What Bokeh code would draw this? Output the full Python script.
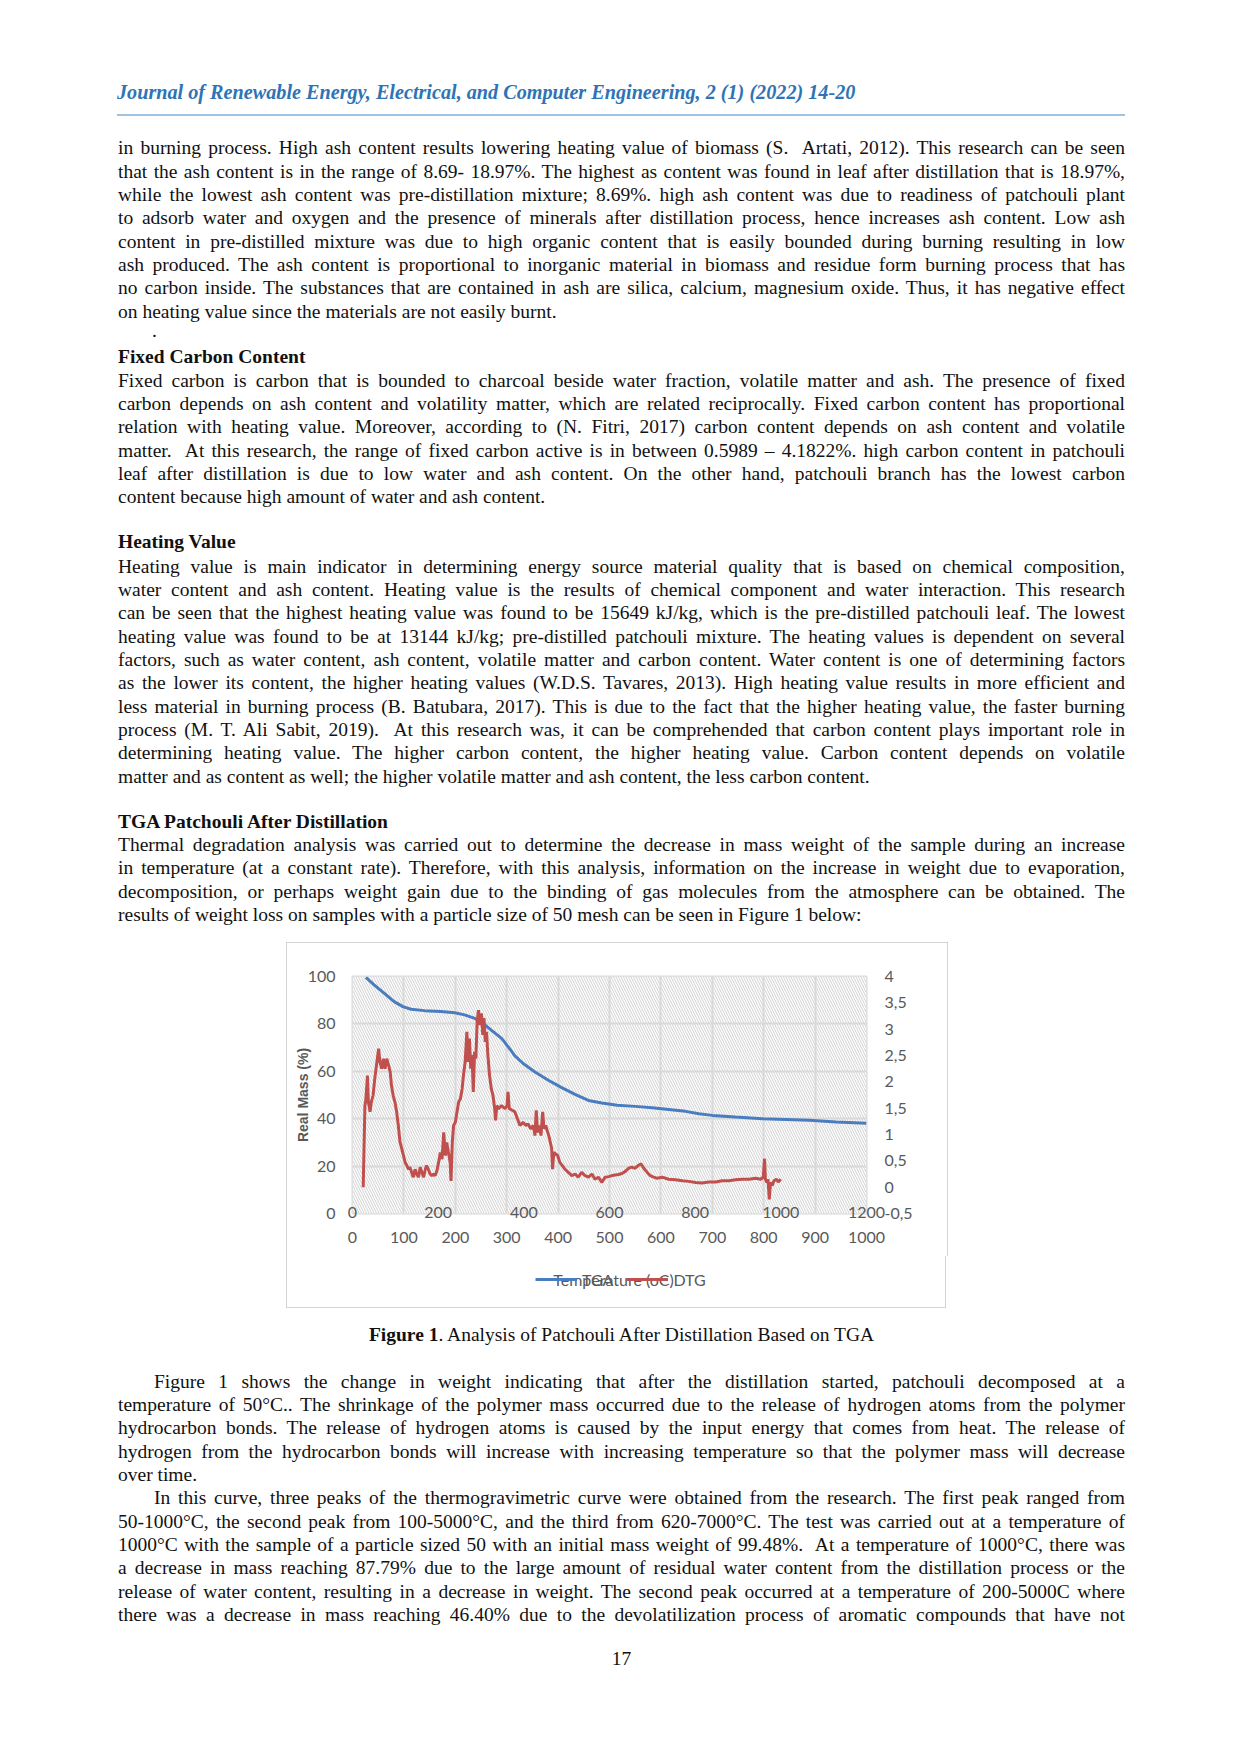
from bokeh.plotting import figure
from bokeh.models import (Range1d, LinearAxis, FixedTicker, Grid, BoxAnnotation,
                          Legend, LegendItem, Label, Div, Spacer)
from bokeh.layouts import column, row
from bokeh.embed import file_html
from bokeh.resources import INLINE


#########################################################
# data
#########################################################

# TGA curve, bottom temperature axis (0-1000) and left mass axis
tga_temp = [26, 42, 62, 81, 98, 114, 140, 172, 199, 218, 238, 254, 270, 290, 303, 316, 332, 355,
            381, 407, 433, 459, 485, 515, 550, 583, 615, 648, 674, 700, 745, 798, 843, 889, 941, 1000]
tga_mass = [99.6, 96.5, 92.9, 89.4, 87.3, 86.2, 85.6, 85.2, 84.7, 83.8, 82.3, 80.2, 77.4, 73.9, 70.3,
            66.5, 63.3, 59.7, 56.2, 53.1, 50.3, 47.7, 46.6, 45.7, 45.2, 44.6, 43.9, 43.1, 42.1, 41.4,
            40.7, 40.0, 39.7, 39.3, 38.6, 38.1]

# DTG curve, secondary temperature axis (0-1200) and right axis
dtg_temp = [25, 29, 31, 35, 37, 41, 44, 48, 52, 57, 61, 64, 68, 72, 76, 80, 84, 88, 91, 95, 99, 103,
            107, 111, 115, 119, 123, 127, 131, 134, 138, 142, 146, 150, 154, 158, 162, 166, 170, 173,
            177, 181, 185, 189, 193, 197, 201, 205, 209, 213, 217, 220, 224, 228, 230, 233, 236, 240,
            244, 248, 252, 256, 259, 263, 267, 270, 273, 276, 279, 282, 285, 288, 291, 294, 298, 301,
            304, 307, 310, 313, 316, 320, 324, 328, 332, 334, 337, 341, 348, 356, 361, 363, 366, 373,
            379, 385, 391, 398, 405, 410, 416, 422, 426, 429, 432, 436, 440, 444, 447, 451, 456, 460,
            465, 467, 470, 474, 479, 484, 490, 496, 504, 512, 520, 527, 535, 543, 551, 559, 566, 574,
            582, 590, 598, 606, 613, 621, 629, 637, 645, 652, 660, 668, 674, 680, 688, 695, 703, 711,
            723, 738, 754, 770, 785, 801, 816, 832, 848, 863, 879, 894, 910, 926, 941, 953, 959, 962,
            964, 967, 970, 973, 976, 980, 984, 990, 994, 1000]
dtg_value = [0.0, 1.55, 1.65, 2.12, 1.62, 1.43, 1.62, 1.74, 2.06, 2.38, 2.63, 2.38, 2.25, 2.44, 2.25,
             2.44, 2.32, 2.19, 1.93, 1.74, 1.62, 1.43, 1.17, 0.85, 0.73, 0.60, 0.47, 0.41, 0.34, 0.38,
             0.28, 0.19, 0.34, 0.25, 0.19, 0.38, 0.28, 0.19, 0.34, 0.41, 0.34, 0.25, 0.22, 0.25, 0.22,
             0.31, 0.47, 0.66, 0.53, 1.04, 0.60, 0.85, 0.66, 0.47, 0.12, 0.85, 1.17, 1.23, 1.43, 1.62,
             1.68, 1.87, 2.12, 2.38, 2.95, 2.38, 2.82, 2.25, 2.51, 1.81, 2.57, 2.44, 3.14, 3.36, 3.08,
             3.30, 2.89, 3.21, 2.76, 2.95, 2.51, 2.12, 1.87, 1.74, 1.49, 1.27, 1.55, 1.49, 1.55, 1.49,
             1.55, 1.81, 1.49, 1.46, 1.43, 1.30, 1.17, 1.23, 1.17, 1.20, 1.11, 1.17, 0.98, 1.46, 1.04,
             1.17, 0.98, 1.43, 1.11, 1.17, 1.04, 0.92, 0.73, 0.34, 0.66, 0.63, 0.60, 0.47, 0.41, 0.34,
             0.28, 0.22, 0.25, 0.19, 0.28, 0.22, 0.19, 0.25, 0.15, 0.19, 0.09, 0.19, 0.20, 0.22, 0.23,
             0.24, 0.26, 0.30, 0.36, 0.38, 0.36, 0.42, 0.44, 0.36, 0.28, 0.22, 0.19, 0.17, 0.19, 0.15,
             0.14, 0.12, 0.11, 0.09, 0.08, 0.10, 0.10, 0.12, 0.12, 0.14, 0.15, 0.15, 0.17, 0.15, 0.19,
             0.54, 0.15, 0.09, 0.15, -0.23, 0.09, 0.03, 0.12, 0.15, 0.10, 0.15]

series_names = ["TGA", "DTG"]
x_title = "Temperature (oC)"
y_title = "Real Mass (%)"

mass_ticks = [0, 20, 40, 60, 80, 100]
temp_ticks = [0, 100, 200, 300, 400, 500, 600, 700, 800, 900, 1000]
sec_ticks = [0, 200, 400, 600, 800, 1000, 1200]
dtg_ticks = [-0.5, 0, 0.5, 1, 1.5, 2, 2.5, 3, 3.5, 4]
dtg_labels = ["-0,5", "0", "0,5", "1", "1,5", "2", "2,5", "3", "3,5", "4"]

# page text
header = "Journal of Renewable Energy, Electrical, and Computer Engineering, 2 (1) (2022) 14-20"

para_ash = [
    "in burning process. High ash content results lowering heating value of biomass (S.&nbsp; Artati, 2012). This research can be seen",
    "that the ash content is in the range of 8.69- 18.97%. The highest as content was found in leaf after distillation that is 18.97%,",
    "while the lowest ash content was pre-distillation mixture; 8.69%. high ash content was due to readiness of patchouli plant",
    "to adsorb water and oxygen and the presence of minerals after distillation process, hence increases ash content. Low ash",
    "content in pre-distilled mixture was due to high organic content that is easily bounded during burning resulting in low",
    "ash produced. The ash content is proportional to inorganic material in biomass and residue form burning process that has",
    "no carbon inside. The substances that are contained in ash are silica, calcium, magnesium oxide. Thus, it has negative effect",
    "on heating value since the materials are not easily burnt.",
]
head_carbon = "Fixed Carbon Content"
para_carbon = [
    "Fixed carbon is carbon that is bounded to charcoal beside water fraction, volatile matter and ash. The presence of fixed",
    "carbon depends on ash content and volatility matter, which are related reciprocally. Fixed carbon content has proportional",
    "relation with heating value. Moreover, according to (N. Fitri, 2017) carbon content depends on ash content and volatile",
    "matter.&nbsp; At this research, the range of fixed carbon active is in between 0.5989 &ndash; 4.1822%. high carbon content in patchouli",
    "leaf after distillation is due to low water and ash content. On the other hand, patchouli branch has the lowest carbon",
    "content because high amount of water and ash content.",
]
head_heating = "Heating Value"
para_heating = [
    "Heating value is main indicator in determining energy source material quality that is based on chemical composition,",
    "water content and ash content. Heating value is the results of chemical component and water interaction. This research",
    "can be seen that the highest heating value was found to be 15649 kJ/kg, which is the pre-distilled patchouli leaf. The lowest",
    "heating value was found to be at 13144 kJ/kg; pre-distilled patchouli mixture. The heating values is dependent on several",
    "factors, such as water content, ash content, volatile matter and carbon content. Water content is one of determining factors",
    "as the lower its content, the higher heating values (W.D.S. Tavares, 2013). High heating value results in more efficient and",
    "less material in burning process (B. Batubara, 2017). This is due to the fact that the higher heating value, the faster burning",
    "process (M. T. Ali Sabit, 2019).&nbsp; At this research was, it can be comprehended that carbon content plays important role in",
    "determining heating value. The higher carbon content, the higher heating value. Carbon content depends on volatile",
    "matter and as content as well; the higher volatile matter and ash content, the less carbon content.",
]
head_tga = "TGA Patchouli After Distillation"
para_tga = [
    "Thermal degradation analysis was carried out to determine the decrease in mass weight of the sample during an increase",
    "in temperature (at a constant rate). Therefore, with this analysis, information on the increase in weight due to evaporation,",
    "decomposition, or perhaps weight gain due to the binding of gas molecules from the atmosphere can be obtained. The",
    "results of weight loss on samples with a particle size of 50 mesh can be seen in Figure 1 below:",
]
caption = "<b>Figure 1</b>. Analysis of Patchouli After Distillation Based on TGA"
para_fig = [
    "Figure 1 shows the change in weight indicating that after the distillation started, patchouli decomposed at a",
    "temperature of 50&deg;C.. The shrinkage of the polymer mass occurred due to the release of hydrogen atoms from the polymer",
    "hydrocarbon bonds. The release of hydrogen atoms is caused by the input energy that comes from heat. The release of",
    "hydrogen from the hydrocarbon bonds will increase with increasing temperature so that the polymer mass will decrease",
    "over time.",
]
para_curve = [
    "In this curve, three peaks of the thermogravimetric curve were obtained from the research. The first peak ranged from",
    "50-1000&deg;C, the second peak from 100-5000&deg;C, and the third from 620-7000&deg;C. The test was carried out at a temperature of",
    "1000&deg;C with the sample of a particle sized 50 with an initial mass weight of 99.48%.&nbsp; At a temperature of 1000&deg;C, there was",
    "a decrease in mass reaching 87.79% due to the large amount of residual water content from the distillation process or the",
    "release of water content, resulting in a decrease in weight. The second peak occurred at a temperature of 200-5000C where",
    "there was a decrease in mass reaching 46.40% due to the devolatilization process of aromatic compounds that have not",
]
page_number = "17"


#########################################################
# text helpers (positions are page pixels)
#########################################################

LEFT = 118
TEXT_W = 1007
STEP = 23.33
BODY = "font-family:'Liberation Serif';font-size:19.5px;line-height:24px;color:#111;"

CHART_TOP = 942
CHART_H = 367


def line_div(txt, yc, div_top, align="left", left=LEFT, width=TEXT_W, indent=0, extra=""):
    top = yc - div_top - 12
    return ('<div style="position:absolute;left:%dpx;top:%.1fpx;width:%dpx;%s'
            'text-align:%s;text-align-last:%s;text-indent:%dpx;%s">%s</div>'
            % (left, top, width, BODY, align, align, indent, extra, txt))


def para(lines, y_first, div_top, indent=0, justify_last=False):
    html = ""
    for i, t in enumerate(lines):
        last = i == len(lines) - 1
        align = "left" if (last and not justify_last) else "justify"
        html += line_div(t, y_first + i * STEP, div_top, align=align, indent=indent if i == 0 else 0)
    return html


# upper part of the page
top_html = '<div style="position:relative;width:1232px;height:%dpx;">' % CHART_TOP
top_html += ('<div style="position:absolute;left:117px;top:79px;width:1000px;font-family:\'Liberation Serif\';'
             'font-size:20.2px;font-style:italic;font-weight:bold;color:#2e74b5;line-height:26px;">%s</div>' % header)
top_html += '<div style="position:absolute;left:117px;top:113.5px;width:1008px;height:2px;background:#9dc3e6;"></div>'
top_html += para(para_ash, 148.3, 0)
top_html += line_div(".", 330.5, 0, left=152, width=20)
top_html += line_div(head_carbon, 357.3, 0, extra="font-weight:bold;")
top_html += para(para_carbon, 380.7, 0)
top_html += line_div(head_heating, 542, 0, extra="font-weight:bold;")
top_html += para(para_heating, 566.7, 0)
top_html += line_div(head_tga, 822, 0, extra="font-weight:bold;")
top_html += para(para_tga, 845, 0)
top_html += '</div>'

# lower part of the page, below the chart
bottom_top = CHART_TOP + CHART_H
bottom_html = '<div style="position:relative;width:1232px;height:380px;">'
bottom_html += line_div(caption, 1335, bottom_top, align="center")
bottom_html += para(para_fig, 1381.7, bottom_top, indent=36)
bottom_html += para(para_curve, 1498.3, bottom_top, indent=36, justify_last=True)
bottom_html += line_div(page_number, 1659.3, bottom_top, align="center")
bottom_html += '</div>'


#########################################################
# chart
#########################################################

GRAY = "#595959"
FONT = "Lato"
BORDER = "1px solid #d4d4d4"
TGA_COLOR = "#4a7dbf"
DTG_COLOR = "#c0504d"

p = figure(frame_width=512, frame_height=236, x_range=Range1d(0, 1000), y_range=Range1d(0, 100),
           x_axis_type=None, y_axis_type=None, output_backend="svg", toolbar_location=None,
           min_border_left=65, min_border_right=83, min_border_top=33, min_border_bottom=44,
           background_fill_color="white", border_fill_color="white",
           outline_line_color="#d9d9d9", outline_line_width=2,
           styles={"border": BORDER, "border-bottom": "none"})
p.extra_x_ranges = {"sec": Range1d(0, 1200)}
p.extra_y_ranges = {"dtg": Range1d(-0.5, 4)}

# hatched plot area
p.add_layout(BoxAnnotation(fill_color="white", fill_alpha=1, line_color=None, hatch_pattern="\\",
                           hatch_color="#d0d0d0", hatch_scale=5, hatch_weight=1, level="image"))

p.add_layout(Grid(dimension=0, ticker=FixedTicker(ticks=temp_ticks), grid_line_color="#d9d9d9", grid_line_width=2))
p.add_layout(Grid(dimension=1, ticker=FixedTicker(ticks=mass_ticks), grid_line_color="#d9d9d9", grid_line_width=2))


def style_axis(ax, standoff):
    ax.axis_line_color = None
    ax.major_tick_line_color = None
    ax.minor_tick_line_color = None
    ax.major_tick_out = 0
    ax.major_tick_in = 0
    ax.minor_tick_out = 0
    ax.minor_tick_in = 0
    ax.major_label_standoff = standoff
    ax.major_label_text_font = FONT
    ax.major_label_text_font_size = "16px"
    ax.major_label_text_color = GRAY


ax_left = LinearAxis(ticker=FixedTicker(ticks=mass_ticks), axis_label=y_title)
style_axis(ax_left, 17)
ax_left.axis_label_text_font = "Liberation Sans"
ax_left.axis_label_text_font_style = "bold"
ax_left.axis_label_text_font_size = "14px"
ax_left.axis_label_text_color = GRAY
ax_left.axis_label_standoff = -6
p.add_layout(ax_left, "left")

ax_right = LinearAxis(y_range_name="dtg", ticker=FixedTicker(ticks=dtg_ticks),
                      major_label_overrides=dict(zip(dtg_ticks, dtg_labels)))
style_axis(ax_right, 18)
p.add_layout(ax_right, "right")

# secondary temperature axis, its labels sit on the zero line
ax_sec = LinearAxis(x_range_name="sec", ticker=FixedTicker(ticks=sec_ticks))
style_axis(ax_sec, -7)
p.add_layout(ax_sec, "below")

ax_temp = LinearAxis(ticker=FixedTicker(ticks=temp_ticks))
style_axis(ax_temp, 11)
p.add_layout(ax_temp, "below")

p.line(tga_temp, tga_mass, line_color=TGA_COLOR, line_width=3)
p.line(dtg_temp, dtg_value, x_range_name="sec", y_range_name="dtg", line_color=DTG_COLOR, line_width=3)

# legend strip under the axes (same border box as the chart)
leg = figure(width=660, height=52, x_range=Range1d(0, 1), y_range=Range1d(0, 1),
             x_axis_type=None, y_axis_type=None, output_backend="svg", toolbar_location=None,
             min_border=0, outline_line_color=None, background_fill_color="white",
             border_fill_color="white", styles={"border": BORDER, "border-top": "none"})
l_tga = leg.line(tga_temp, tga_mass, line_color=TGA_COLOR, line_width=3, visible=False)
l_dtg = leg.line(dtg_temp, dtg_value, line_color=DTG_COLOR, line_width=3, visible=False)

# the x title sits under the legend entries, as in the original
leg.add_layout(Label(x=261, y=29, x_units="screen", y_units="screen", text=x_title,
                     text_align="center", text_baseline="middle", text_font=FONT,
                     text_font_size="16px", text_color=GRAY))
leg.add_layout(Legend(items=[LegendItem(label=series_names[0], renderers=[l_tga]),
                             LegendItem(label=series_names[1], renderers=[l_dtg])],
                      orientation="horizontal", location=(183, 19), margin=0, padding=0, spacing=13,
                      glyph_width=42, glyph_height=20, label_standoff=5, label_height=20,
                      label_text_font=FONT, label_text_font_size="16px", label_text_color=GRAY,
                      border_line_color=None, background_fill_alpha=0))


#########################################################
# page
#########################################################

top_div = Div(text=top_html, width=1232, height=CHART_TOP, margin=0)
bottom_div = Div(text=bottom_html, width=1232, height=380, margin=0)
chart = column(p, leg, margin=0, spacing=0)
page = column(top_div, row(Spacer(width=286, height=CHART_H, margin=0), chart, margin=0), bottom_div, margin=0)

open("out.html", "w").write(file_html(page, INLINE))
